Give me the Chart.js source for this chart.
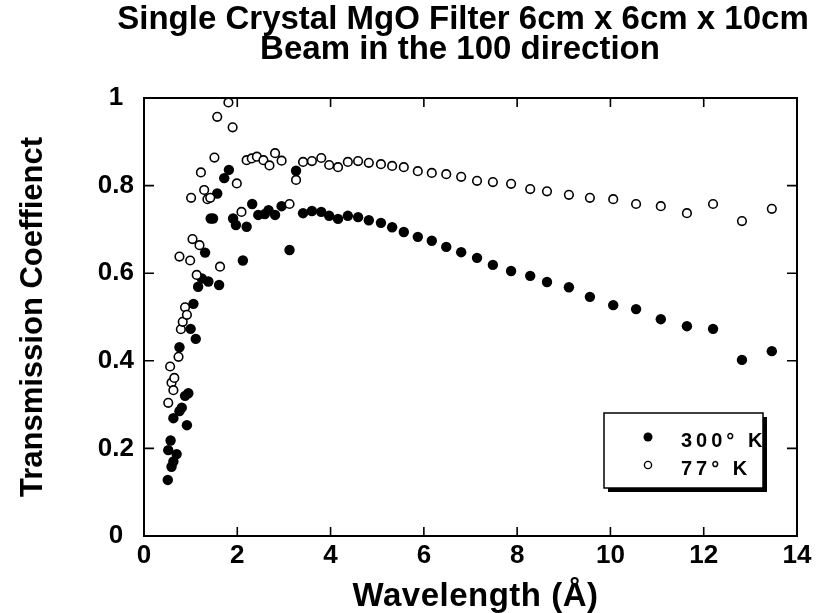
<!DOCTYPE html>
<html>
<head>
<meta charset="utf-8">
<script src="https://cdn.jsdelivr.net/npm/chart.js@4.4.1/dist/chart.umd.min.js"></script>
<style>
  html, body { margin: 0; padding: 0; background: #fff; }
  canvas { display: block; }
</style>
</head>
<body>
<canvas id="chart" width="824" height="613"></canvas>
<script>
// transmission of the MgO crystal
const wl300 = [0.51, 0.52, 0.57, 0.59, 0.63, 0.63, 0.70, 0.76, 0.76, 0.81, 0.88, 0.92, 0.95, 1.00,
  1.06, 1.11, 1.16, 1.24, 1.31, 1.38, 1.43, 1.48, 1.57, 1.61, 1.72, 1.82, 1.91, 1.97, 2.12, 2.20,
  2.32, 2.45, 2.59, 2.67, 2.81, 2.95, 3.12, 3.26, 3.41, 3.60, 3.80, 3.97, 4.16, 4.37, 4.59, 4.82,
  5.08, 5.32, 5.57, 5.87, 6.17, 6.48, 6.80, 7.14, 7.48, 7.87, 8.28, 8.64, 9.11, 9.56, 10.06, 10.55,
  11.08, 11.64, 12.20, 12.82, 13.46];
const t300 = [0.128, 0.196, 0.218, 0.158, 0.170, 0.269, 0.187, 0.285, 0.431, 0.293, 0.320, 0.253, 0.326, 0.473,
  0.530, 0.450, 0.569, 0.588, 0.647, 0.581, 0.725, 0.725, 0.782, 0.573, 0.817, 0.836, 0.725, 0.710, 0.629, 0.706,
  0.758, 0.733, 0.735, 0.744, 0.733, 0.753, 0.653, 0.834, 0.737, 0.742, 0.740, 0.731, 0.724, 0.731, 0.728, 0.721,
  0.715, 0.705, 0.694, 0.683, 0.674, 0.660, 0.648, 0.635, 0.619, 0.605, 0.594, 0.580, 0.568, 0.546, 0.527, 0.518,
  0.495, 0.479, 0.473, 0.402, 0.422];

const wl77 = [0.52, 0.56, 0.59, 0.63, 0.65, 0.74, 0.76, 0.79, 0.83, 0.88, 0.92, 0.99, 1.01, 1.04,
  1.13, 1.19, 1.22, 1.29, 1.36, 1.42, 1.51, 1.57, 1.63, 1.81, 1.90, 1.99, 2.09, 2.20, 2.31, 2.42,
  2.56, 2.69, 2.81, 2.95, 3.12, 3.26, 3.41, 3.60, 3.80, 3.97, 4.16, 4.37, 4.59, 4.82, 5.08, 5.32,
  5.57, 5.87, 6.17, 6.48, 6.80, 7.14, 7.48, 7.87, 8.28, 8.64, 9.11, 9.56, 10.06, 10.55, 11.08, 11.64,
  12.20, 12.82, 13.46];
const t77 = [0.304, 0.387, 0.350, 0.333, 0.361, 0.409, 0.638, 0.472, 0.489, 0.522, 0.505, 0.629, 0.772, 0.678,
  0.596, 0.664, 0.830, 0.790, 0.769, 0.772, 0.864, 0.957, 0.615, 0.990, 0.933, 0.805, 0.740, 0.858, 0.862, 0.866,
  0.858, 0.846, 0.874, 0.857, 0.758, 0.813, 0.854, 0.856, 0.863, 0.847, 0.842, 0.854, 0.856, 0.852, 0.849, 0.845,
  0.842, 0.833, 0.829, 0.826, 0.820, 0.811, 0.808, 0.804, 0.792, 0.787, 0.779, 0.772, 0.769, 0.758, 0.753, 0.737,
  0.758, 0.719, 0.747];

const xTicks = [0, 2, 4, 6, 8, 10, 12, 14];
const yTicks = [0, 0.2, 0.4, 0.6, 0.8, 1];
const yTickLabels = ['0', '0.2', '0.4', '0.6', '0.8', '1'];
const titleLines = ['Single Crystal MgO Filter 6cm x 6cm x 10cm', 'Beam in the 100 direction'];
const xTitle = 'Wavelength (Å)';
const seriesNames = ['300° K', '77° K'];

const FONT = '"Liberation Sans", Arial, sans-serif';

const toPoints = (xs, ys) => xs.map((v, i) => ({ x: v, y: ys[i] }));

// box around the plot with inward ticks on every side
const frame = {
  id: 'frame',
  beforeDatasetsDraw(chart) {
    const { ctx, chartArea: a, scales: { x, y } } = chart;
    ctx.save();
    ctx.strokeStyle = '#000';
    ctx.lineWidth = 2;
    ctx.strokeRect(a.left, a.top, a.right - a.left, a.bottom - a.top);
    ctx.lineWidth = 1.6;
    ctx.beginPath();
    xTicks.slice(1, -1).forEach(v => {
      const px = x.getPixelForValue(v);
      ctx.moveTo(px, a.bottom); ctx.lineTo(px, a.bottom - 9);
      ctx.moveTo(px, a.top); ctx.lineTo(px, a.top + 9);
    });
    yTicks.slice(1, -1).forEach(v => {
      const py = y.getPixelForValue(v);
      ctx.moveTo(a.left, py); ctx.lineTo(a.left + 10, py);
      ctx.moveTo(a.right, py); ctx.lineTo(a.right - 10, py);
    });
    ctx.stroke();
    ctx.restore();
  }
};

// two-line title on top and the x axis title
const heading = {
  id: 'heading',
  afterDraw(chart) {
    const { ctx, chartArea: a } = chart;
    ctx.save();
    ctx.fillStyle = '#000';
    ctx.textAlign = 'center';
    ctx.textBaseline = 'alphabetic';
    ctx.font = 'bold 33px ' + FONT;
    ctx.fillText(titleLines[0], 463, 29);
    ctx.fillText(titleLines[1], 460, 59);
    ctx.font = 'bold 33px ' + FONT;
    ctx.letterSpacing = '0.5px';
    ctx.fillText(xTitle, (a.left + a.right) / 2 + 5, 606);
    ctx.restore();
  }
};

// the boxed legend with a drop shadow
const legendBox = {
  id: 'legendBox',
  afterDraw(chart) {
    const { ctx, chartArea: a } = chart;
    const l = a.right - 193, t = a.top + 315, w = 159, h = 75;
    ctx.save();
    ctx.fillStyle = '#000';
    ctx.fillRect(l + 4, t + 4, w, h);
    ctx.fillStyle = '#fff';
    ctx.fillRect(l, t, w, h);
    ctx.strokeStyle = '#000';
    ctx.lineWidth = 1.5;
    ctx.strokeRect(l, t, w, h);

    ctx.fillStyle = '#000';
    ctx.beginPath();
    ctx.arc(l + 44, t + 24, 4.5, 0, Math.PI * 2);
    ctx.fill();
    ctx.beginPath();
    ctx.arc(l + 44, t + 52, 3.6, 0, Math.PI * 2);
    ctx.lineWidth = 1.4;
    ctx.stroke();

    ctx.font = 'bold 20px ' + FONT;
    ctx.textBaseline = 'middle';
    ctx.textAlign = 'left';
    ctx.letterSpacing = '4px';
    ctx.fillText(seriesNames[0], l + 77, t + 28);
    ctx.fillText(seriesNames[1], l + 77, t + 56);
    ctx.restore();
  }
};

new Chart(document.getElementById('chart'), {
  type: 'scatter',
  data: {
    datasets: [
      {
        label: seriesNames[1],
        data: toPoints(wl77, t77),
        pointRadius: 4.3,
        pointBorderWidth: 1.6,
        pointBackgroundColor: '#fff',
        pointBorderColor: '#000'
      },
      {
        label: seriesNames[0],
        data: toPoints(wl300, t300),
        pointRadius: 5.2,
        pointBorderWidth: 0,
        pointBackgroundColor: '#000',
        pointBorderColor: '#000'
      }
    ]
  },
  options: {
    responsive: false,
    devicePixelRatio: 1,
    animation: false,
    layout: { padding: { top: 98, right: 27, left: 0, bottom: 0 } },
    plugins: {
      legend: { display: false },
      tooltip: { enabled: false }
    },
    scales: {
      x: {
        type: 'linear',
        min: 0,
        max: 14,
        afterBuildTicks: s => { s.ticks = xTicks.map(v => ({ value: v })); },
        afterFit: s => { s.height = 77; },
        grid: { display: false, drawTicks: false },
        border: { display: false },
        ticks: { padding: 4, color: '#000', font: { family: FONT, size: 26, weight: 'bold' } }
      },
      y: {
        min: 0,
        max: 1,
        afterBuildTicks: s => { s.ticks = yTicks.map(v => ({ value: v })); },
        afterFit: s => { s.width = 144; },
        grid: { display: false, drawTicks: false },
        border: { display: false },
        ticks: {
          padding: 10,
          crossAlign: 'center',
          color: '#000',
          font: { family: FONT, size: 26, weight: 'bold' },
          callback: (v, i) => yTickLabels[i]
        },
        title: {
          display: true,
          text: 'Transmission Coeffienct',
          color: '#000',
          padding: { top: 15, bottom: 0 },
          font: { family: FONT, size: 31, weight: 'bold' }
        }
      }
    }
  },
  plugins: [frame, heading, legendBox]
});
</script>
</body>
</html>
